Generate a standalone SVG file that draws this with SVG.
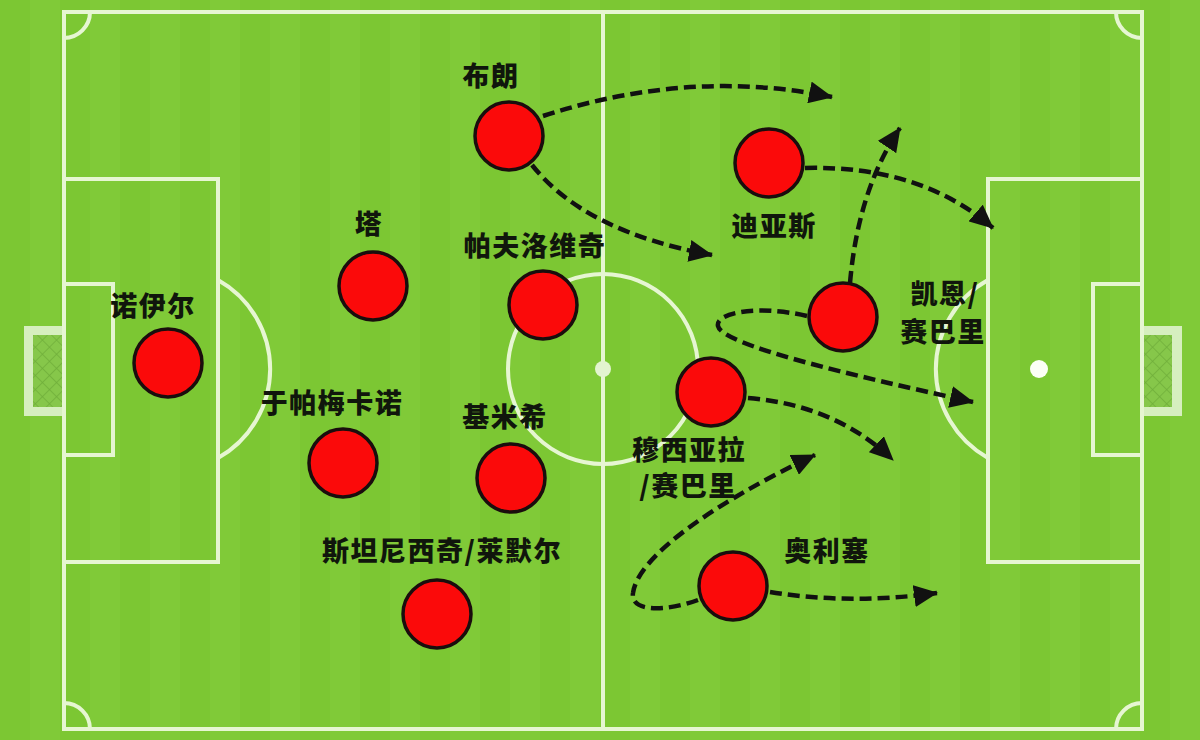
<svg xmlns="http://www.w3.org/2000/svg" width="1200" height="740" viewBox="0 0 1200 740">
<defs>
<style>
.ln{fill:none;stroke:#e6f6d2;stroke-width:4}
.pl{fill:#fb0a0a;stroke:#1a0d0d;stroke-width:3.5}
.lb{font-family:"Noto Sans CJK SC","Noto Sans",sans-serif;font-weight:900;font-size:27px;letter-spacing:1.5px;fill:#10160c;text-anchor:middle}
.ar{fill:none;stroke:#111;stroke-width:4.5;stroke-dasharray:12 6;marker-end:url(#ah)}
.gf{fill:#d6efbf;stroke:none}
.net{fill:url(#hatch)}
</style>
<pattern id="stripes" x="0" y="0" width="60" height="740" patternUnits="userSpaceOnUse">
<rect width="60" height="740" fill="#7cc733"/>
<rect x="30" width="30" height="740" fill="#80ca38"/>
</pattern>
<pattern id="hatch" width="10" height="10" patternUnits="userSpaceOnUse" patternTransform="rotate(45)">
<rect width="10" height="10" fill="#86c74a"/>
<path d="M0 0 V10 M0 0 H10" stroke="#6fae3a" stroke-width="1.5"/>
</pattern>
<marker id="ah" viewBox="0 0 24 22" refX="23" refY="11" markerWidth="24" markerHeight="22" markerUnits="userSpaceOnUse" orient="auto">
<path d="M0 0 L24 11 L0 22 Z" fill="#111"/>
</marker>
</defs>

<g id="pitch">
<rect width="1200" height="740" fill="url(#stripes)"/>
<rect class="gf" x="24" y="326" width="42" height="90"/>
<rect class="net" x="33" y="335" width="29" height="72"/>
<rect class="gf" x="1140" y="326" width="42" height="90"/>
<rect class="net" x="1142" y="335" width="30" height="72"/>
<rect class="ln" x="64" y="12" width="1078" height="717" stroke-width="4.5"/>
<line class="ln" x1="603" y1="12" x2="603" y2="729"/>
<circle class="ln" cx="603" cy="369" r="95"/>
<circle cx="603" cy="369" r="8" fill="#e2f4cf"/>
<rect class="ln" x="64" y="179" width="154" height="383"/>
<rect class="ln" x="64" y="284" width="49" height="171"/>
<path class="ln" d="M218 280 A102 102 0 0 1 218 458"/>
<rect class="ln" x="988" y="179" width="154" height="383"/>
<rect class="ln" x="1093" y="284" width="49" height="171"/>
<path class="ln" d="M988 280 A102 102 0 0 0 988 458"/>
<circle cx="1039" cy="369" r="9" fill="#fbfff5"/>
<path class="ln" d="M90 12 A26 26 0 0 1 64 38"/>
<path class="ln" d="M1116 12 A26 26 0 0 0 1142 38"/>
<path class="ln" d="M64 703 A26 26 0 0 1 90 729"/>
<path class="ln" d="M1142 703 A26 26 0 0 0 1116 729"/>
</g>

<g id="connectors">
<path class="ar" d="M543 116 Q690 68 832 97"/>
<path class="ar" d="M532 165 Q585 232 712 255"/>
<path class="ar" d="M805 168 Q920 165 993 228"/>
<path class="ar" d="M850 283 Q858 190 900 128"/>
<path class="ar" d="M807 316 C760 305 715 312 718 326 C722 345 850 375 973 402"/>
<path class="ar" d="M748 398 Q835 405 893 460"/>
<path class="ar" d="M698 600 C665 612 630 612 633 593 C638 555 720 500 815 455"/>
<path class="ar" d="M770 592 Q850 605 937 593"/>
</g>

<g id="brown"><circle class="pl" cx="509" cy="136" r="34"/><text class="lb" x="491" y="86">布朗</text></g>
<g id="ta"><circle class="pl" cx="373" cy="286" r="34"/><text class="lb" x="369" y="234">塔</text></g>
<g id="pavlovic"><circle class="pl" cx="543" cy="305" r="34"/><text class="lb" x="535" y="256">帕夫洛维奇</text></g>
<g id="neuer"><circle class="pl" cx="168" cy="363" r="34"/><text class="lb" x="153" y="316">诺伊尔</text></g>
<g id="upamecano"><circle class="pl" cx="343" cy="463" r="34"/><text class="lb" x="332" y="413">于帕梅卡诺</text></g>
<g id="kimmich"><circle class="pl" cx="511" cy="478" r="34"/><text class="lb" x="505" y="427">基米希</text></g>
<g id="stanisic"><circle class="pl" cx="437" cy="614" r="34"/><text class="lb" x="442" y="561">斯坦尼西奇/莱默尔</text></g>
<g id="diaz"><circle class="pl" cx="769" cy="163" r="34"/><text class="lb" x="774" y="236">迪亚斯</text></g>
<g id="kane"><circle class="pl" cx="843" cy="317" r="34"/><text class="lb" x="945" y="304">凯恩/</text><text class="lb" x="943" y="342">赛巴里</text></g>
<g id="musiala"><circle class="pl" cx="711" cy="392" r="34"/><text class="lb" x="689" y="460">穆西亚拉</text><text class="lb" x="688" y="496">/赛巴里</text></g>
<g id="olise"><circle class="pl" cx="733" cy="586" r="34"/><text class="lb" x="827" y="561">奥利塞</text></g>
</svg>
